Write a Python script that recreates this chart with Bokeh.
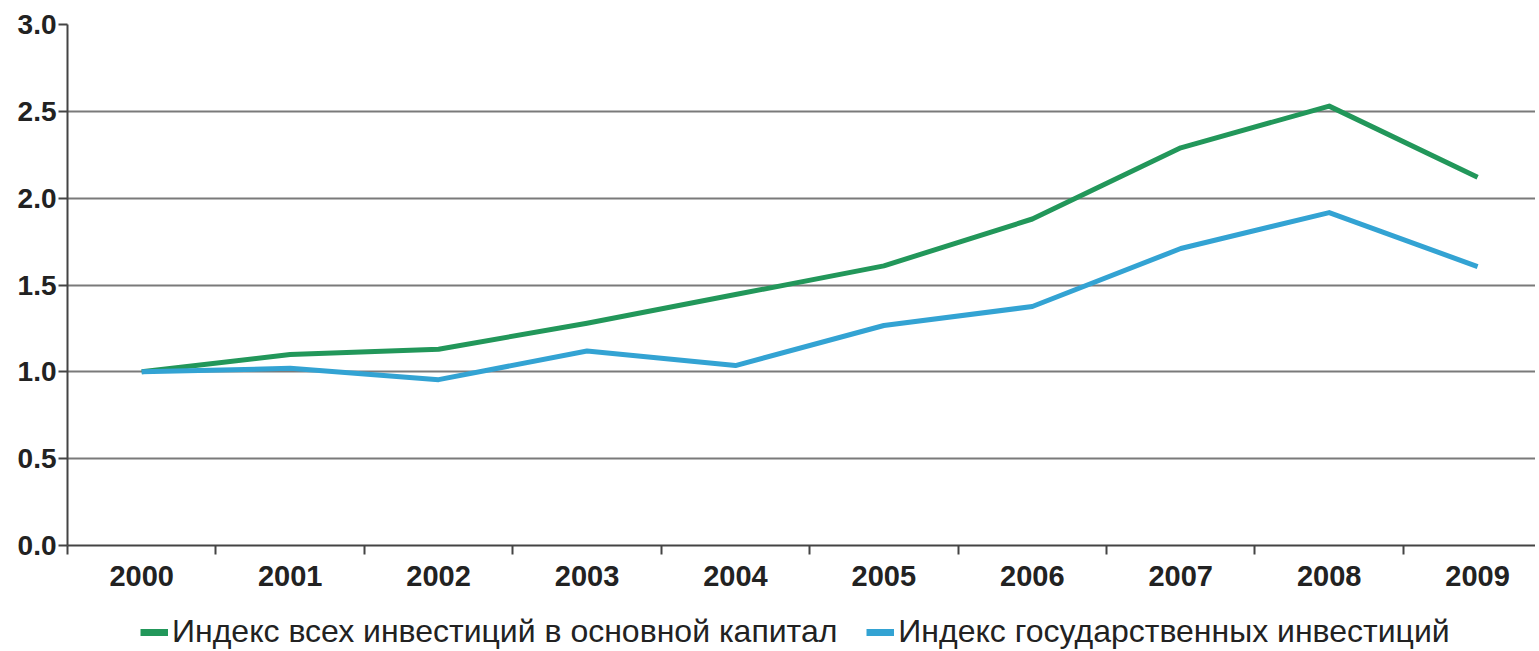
from bokeh.plotting import figure
from bokeh.layouts import column
from bokeh.models import (ColumnDataSource, Range1d, FixedTicker, Legend, LegendItem,
                          CustomJSTickFormatter)
from bokeh.embed import file_html
from bokeh.resources import INLINE

years = ["2000", "2001", "2002", "2003", "2004", "2005", "2006", "2007", "2008", "2009"]
total_index = [1.00, 1.10, 1.13, 1.28, 1.445, 1.61, 1.88, 2.29, 2.53, 2.12]
state_index = [1.00, 1.02, 0.955, 1.12, 1.036, 1.267, 1.376, 1.71, 1.917, 1.606]
y_ticks = [0.0, 0.5, 1.0, 1.5, 2.0, 2.5, 3.0]
series_names = ["Индекс всех инвестиций в основной капитал",
                "Индекс государственных инвестиций"]
series_colors = ["#22975a", "#33a3d3"]

FONT = "Liberation Sans"
W = 1535

xs = list(range(len(years)))
src = ColumnDataSource(dict(x=xs, total=total_index, state=state_index))

p = figure(width=W, height=610, output_backend="svg", toolbar_location=None,
           x_range=Range1d(-0.5, 9.39), y_range=Range1d(0, 3.0),
           min_border_left=67, min_border_right=0, min_border_top=24, min_border_bottom=65)
p.outline_line_color = None
p.background_fill_color = "white"
p.border_fill_color = "white"

p.line("x", "total", source=src, line_color=series_colors[0], line_width=5, line_join="round")
p.line("x", "state", source=src, line_color=series_colors[1], line_width=5, line_join="round")

# x axis
p.xaxis.ticker = FixedTicker(ticks=xs, minor_ticks=[i - 0.5 for i in range(len(years) + 1)])
p.xaxis.major_label_overrides = {i: y for i, y in enumerate(years)}
p.xaxis.major_tick_out = 0
p.xaxis.major_tick_in = 0
p.xaxis.minor_tick_out = 9
p.xaxis.minor_tick_in = 0
p.xaxis.minor_tick_line_color = "#444444"
p.xaxis.minor_tick_line_width = 2
p.xaxis.axis_line_color = "#444444"
p.xaxis.axis_line_width = 2
p.xaxis.major_label_text_font = FONT
p.xaxis.major_label_text_font_size = "29px"
p.xaxis.major_label_text_font_style = "bold"
p.xaxis.major_label_text_color = "#222222"
p.xaxis.major_label_standoff = 11

# y axis
p.yaxis.ticker = FixedTicker(ticks=y_ticks)
p.yaxis.formatter = CustomJSTickFormatter(code="return tick.toFixed(1);")
p.yaxis.major_tick_out = 9
p.yaxis.major_tick_in = 0
p.yaxis.minor_tick_out = 0
p.yaxis.minor_tick_in = 0
p.yaxis.major_tick_line_color = "#444444"
p.yaxis.major_tick_line_width = 2
p.yaxis.axis_line_color = "#444444"
p.yaxis.axis_line_width = 2
p.yaxis.major_label_text_font = FONT
p.yaxis.major_label_text_font_size = "28px"
p.yaxis.major_label_text_font_style = "bold"
p.yaxis.major_label_text_color = "#222222"
p.yaxis.major_label_standoff = 2

p.xgrid.grid_line_color = None
p.ygrid.grid_line_color = "#7a7a7a"
p.ygrid.grid_line_width = 2
p.ygrid.ticker = FixedTicker(ticks=y_ticks)

# legend strip (its frame is aligned with the main frame by the column layout)
lg = figure(width=W, height=41, output_backend="svg", toolbar_location=None,
            x_range=Range1d(0, 1), y_range=Range1d(0, 1),
            min_border=0, min_border_left=0, min_border_right=0,
            min_border_top=0, min_border_bottom=0)
lg.axis.visible = False
lg.grid.visible = False
lg.outline_line_color = None
lg_items = []
for name, col in zip(series_names, series_colors):
    r = lg.line(x=[-5, -4], y=[-5, -5], line_color=col, line_width=7)
    lg_items.append(LegendItem(label=name, renderers=[r]))
legend = Legend(items=lg_items, orientation="horizontal", location=(73, 1),
                label_text_font=FONT, label_text_font_size="32px",
                label_text_color="#222222", glyph_width=28, glyph_height=20,
                label_standoff=4, spacing=29, padding=0, margin=0,
                border_line_color=None, background_fill_alpha=0)
lg.add_layout(legend, "center")

layout = column(p, lg, spacing=0)
open("out.html", "w").write(file_html(layout, INLINE))
